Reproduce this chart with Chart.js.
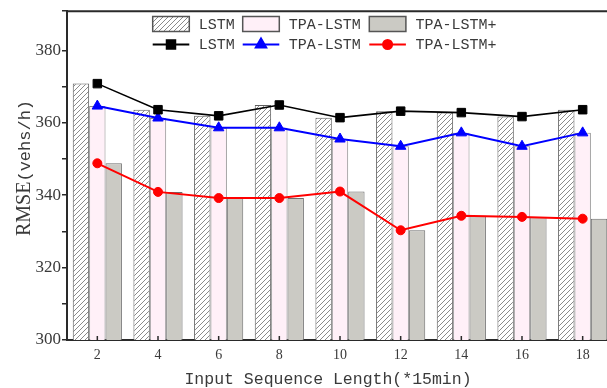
<!DOCTYPE html>
<html>
<head>
<meta charset="utf-8">
<script src="https://cdn.jsdelivr.net/npm/chart.js@4.4.0/dist/chart.umd.min.js"></script>
<style>
    html, body { margin: 0; padding: 0; background: #fff; overflow: hidden; }
    #wrap { width: 620px; height: 388px; }
</style>
</head>
<body>
<div id="wrap"><canvas id="rmseChart"></canvas></div>
<script>
// Input sequence length (x 15 min)
const categories = ['2', '4', '6', '8', '10', '12', '14', '16', '18'];
// RMSE values (vehs/h)
const lstmValues = [370.8, 363.6, 361.9, 364.9, 361.4, 363.2, 362.8, 361.7, 363.6];
const tpaValues = [364.6, 361.3, 358.6, 358.6, 355.5, 353.5, 357.2, 353.5, 357.2];
const tpaPlusValues = [348.8, 340.9, 339.2, 339.2, 341.0, 330.3, 334.3, 334.0, 333.5];
const yTickLabels = [300, 320, 340, 360, 380];

const AXIS_COLOR = '#2a2a2a';
const TEXT_COLOR = '#3a3a3a';

// diagonal hatch used for the LSTM bars
function makeHatch() {
    const c = document.createElement('canvas');
    c.width = 5;
    c.height = 5;
    const g = c.getContext('2d');
    g.fillStyle = '#ffffff';
    g.fillRect(0, 0, 5, 5);
    g.strokeStyle = '#8a8a8a';
    g.lineWidth = 1;
    g.beginPath();
    g.moveTo(-1, 6); g.lineTo(6, -1);
    g.moveTo(-1, 1); g.lineTo(1, -1);
    g.moveTo(4, 6); g.lineTo(6, 4);
    g.stroke();
    return g.createPattern(c, 'repeat');
}

document.addEventListener('DOMContentLoaded', () => {
    const ctx = document.getElementById('rmseChart');
    const hatch = makeHatch();

    const barColors = {
        lstm: hatch,
        tpa: '#fff0f8',
        tpaPlus: '#cbcac4'
    };

    // legend, frame, axis titles and inner x ticks
    const decorations = {
        id: 'decorations',
        afterDraw(chart) {
            const c = chart.ctx;
            const area = chart.chartArea;
            const xScale = chart.scales.x;
            c.save();

            // top frame line
            c.strokeStyle = AXIS_COLOR;
            c.lineWidth = 2;
            c.beginPath();
            c.moveTo(area.left - 1, area.top);
            c.lineTo(area.right, area.top);
            c.stroke();

            // inward x ticks
            c.lineWidth = 1.5;
            c.beginPath();
            categories.forEach((cat, i) => {
                const x = xScale.getPixelForValue(i);
                c.moveTo(x, area.bottom);
                c.lineTo(x, area.bottom - 4);
            });
            c.stroke();

            // x axis title
            c.fillStyle = TEXT_COLOR;
            c.font = '16.5px "Liberation Mono"';
            c.textAlign = 'center';
            c.textBaseline = 'middle';
            c.fillText('Input Sequence Length(*15min)', 328, 380);

            // y axis title
            c.save();
            c.translate(25, 168);
            c.rotate(-Math.PI / 2);
            c.textBaseline = 'middle';
            c.textAlign = 'left';
            const serif = '20px "Liberation Serif"';
            const mono = '17px "Liberation Mono"';
            c.font = serif;
            const w1 = c.measureText('RMSE').width;
            c.font = mono;
            const w2 = c.measureText('(vehs/h)').width;
            const start = -(w1 + w2) / 2;
            c.font = serif;
            c.fillText('RMSE', start, 0);
            c.font = mono;
            c.fillText('(vehs/h)', start + w1, 0);
            c.restore();

            // legend
            const cols = [152.7, 242.7, 369.3];
            const names = ['LSTM', 'TPA-LSTM', 'TPA-LSTM+'];
            const fills = [barColors.lstm, barColors.tpa, barColors.tpaPlus];
            const lineColors = ['#000000', '#0000ff', '#ff0000'];
            const styles = ['rect', 'triangle', 'circle'];
            const boxW = 36.6;
            c.font = '15px "Liberation Mono"';
            c.textAlign = 'left';
            c.textBaseline = 'middle';
            cols.forEach((x, i) => {
                // bar swatch
                c.fillStyle = fills[i];
                c.fillRect(x, 16.5, boxW, 15);
                c.strokeStyle = '#555';
                c.lineWidth = 1.5;
                c.strokeRect(x, 16.5, boxW, 15);
                c.fillStyle = TEXT_COLOR;
                c.fillText(names[i], x + boxW + 9.5, 25);

                // line swatch
                c.strokeStyle = lineColors[i];
                c.lineWidth = 2;
                c.beginPath();
                c.moveTo(x, 44.5);
                c.lineTo(x + boxW, 44.5);
                c.stroke();
                c.fillStyle = lineColors[i];
                Chart.helpers.drawPoint(c, {
                    pointStyle: styles[i],
                    radius: i === 2 ? 4.5 : 6,
                    rotation: 0,
                    borderWidth: 1
                }, x + boxW / 2, 44.5);
                c.fillStyle = TEXT_COLOR;
                c.fillText(names[i], x + boxW + 9.5, 45);
            });

            c.restore();
        }
    };

    const barBase = {
        type: 'bar',
        borderWidth: 1,
        borderColor: '#6e6e6e',
        borderSkipped: 'bottom',
        categoryPercentage: 0.81,
        barPercentage: 1.0,
        order: 2
    };

    const lineBase = {
        type: 'line',
        fill: false,
        tension: 0,
        borderWidth: 2,
        pointBorderWidth: 1,
        order: 1
    };

    new Chart(ctx, {
        data: {
            labels: categories,
            datasets: [
                Object.assign({}, barBase, {
                    label: 'LSTM',
                    data: lstmValues,
                    backgroundColor: barColors.lstm,
                    borderColor: '#5e5e5e'
                }),
                Object.assign({}, barBase, {
                    label: 'TPA-LSTM',
                    data: tpaValues,
                    backgroundColor: barColors.tpa,
                    borderColor: '#8a8a8a'
                }),
                Object.assign({}, barBase, {
                    label: 'TPA-LSTM+',
                    data: tpaPlusValues,
                    backgroundColor: barColors.tpaPlus
                }),
                Object.assign({}, lineBase, {
                    label: 'LSTM',
                    data: lstmValues,
                    borderColor: '#000000',
                    backgroundColor: '#000000',
                    borderWidth: 1.6,
                    pointStyle: 'rect',
                    pointRadius: 6
                }),
                Object.assign({}, lineBase, {
                    label: 'TPA-LSTM',
                    data: tpaValues,
                    borderColor: '#0000ff',
                    backgroundColor: '#0000ff',
                    pointStyle: 'triangle',
                    pointRadius: 6
                }),
                Object.assign({}, lineBase, {
                    label: 'TPA-LSTM+',
                    data: tpaPlusValues,
                    borderColor: '#ff0000',
                    backgroundColor: '#ff0000',
                    pointStyle: 'circle',
                    pointRadius: 4.5
                })
            ]
        },
        options: {
            responsive: true,
            maintainAspectRatio: false,
            animation: false,
            layout: { padding: { top: 11, left: 0, right: 2, bottom: 0 } },
            plugins: {
                legend: { display: false },
                tooltip: { enabled: false }
            },
            scales: {
                x: {
                    grid: { display: false, drawTicks: false },
                    border: { display: true, color: AXIS_COLOR, width: 2 },
                    ticks: {
                        color: TEXT_COLOR,
                        font: { family: 'Liberation Serif', size: 14 },
                        padding: 7,
                        maxRotation: 0
                    },
                    afterFit(scale) { scale.height = 48; }
                },
                y: {
                    min: 300,
                    max: 390.8,
                    grid: {
                        drawOnChartArea: false,
                        drawTicks: true,
                        tickLength: 5,
                        color: AXIS_COLOR,
                        lineWidth: 1.5
                    },
                    border: { display: true, color: AXIS_COLOR, width: 2 },
                    ticks: {
                        stepSize: 10,
                        padding: 1,
                        color: TEXT_COLOR,
                        font: { family: 'Liberation Serif', size: 17 },
                        callback: value => yTickLabels.includes(value) ? String(value) : ''
                    },
                    afterFit(scale) { scale.width = 67; }
                }
            }
        },
        plugins: [decorations]
    });
});
</script>
</body>
</html>
